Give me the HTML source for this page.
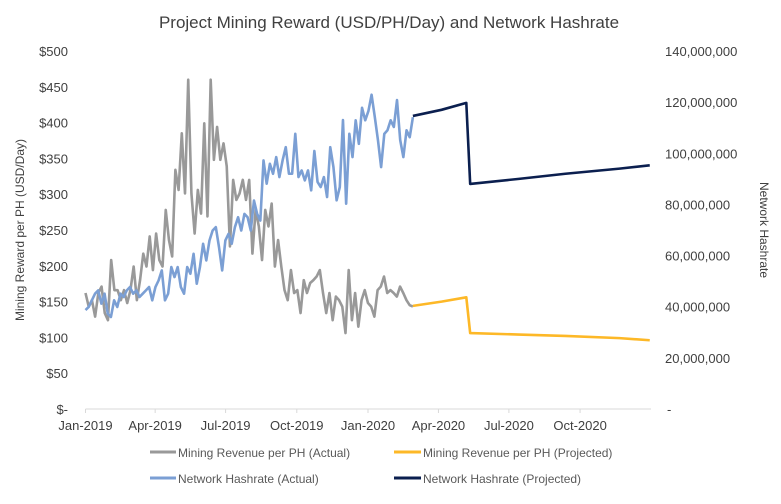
<!DOCTYPE html>
<html><head><meta charset="utf-8"><style>
body{margin:0;background:#fff;font-family:"Liberation Sans",Arial,sans-serif;}
svg text{font-family:"Liberation Sans",Arial,sans-serif;}
</style></head><body>
<svg width="781" height="499" viewBox="0 0 781 499" xmlns="http://www.w3.org/2000/svg">
<rect width="781" height="499" fill="#fff"/>
<text x="389" y="28" text-anchor="middle" font-size="17" fill="#404040">Project Mining Reward (USD/PH/Day) and Network Hashrate</text>
<g id="axes"></g>
<g id="series"></g>
<text transform="translate(24,230) rotate(-90)" text-anchor="middle" font-size="12" fill="#404040">Mining Reward per PH (USD/Day)</text>
<text transform="translate(760,230) rotate(90)" text-anchor="middle" font-size="12" fill="#404040">Network Hashrate</text>
<g font-size="12" fill="#595959">
<g><line x1="150" y1="452" x2="176" y2="452" stroke="#999999" stroke-width="3"/><text x="178" y="457">Mining Revenue per PH (Actual)</text></g>
<g><line x1="394" y1="452" x2="421" y2="452" stroke="#FDB827" stroke-width="3"/><text x="423" y="457">Mining Revenue per PH (Projected)</text></g>
<g><line x1="150" y1="478" x2="176" y2="478" stroke="#7B9FD4" stroke-width="3"/><text x="178" y="483">Network Hashrate (Actual)</text></g>
<g><line x1="394" y1="478" x2="421" y2="478" stroke="#0B1F4F" stroke-width="3"/><text x="423" y="483">Network Hashrate (Projected)</text></g>
</g>
</svg>
<script>
const revenueActual=[162,143,152,129,162,171,134,124,208,166,166,152,166,148,166,199,152,180,217,199,241,194,245,208,199,278,236,213,334,306,385,301,460,301,245,306,273,399,269,460,348,394,348,371,339,227,320,292,301,320,292,320,217,278,255,208,278,255,287,199,236,199,166,152,194,162,166,134,180,162,176,180,185,194,162,134,162,124,157,152,143,106,194,124,162,115,152,166,148,143,129,166,171,185,162,166,162,157,171,162,152,145,143];
const hashrateActual=[38.7,39.9,42.5,45.1,46.4,41.2,45.1,37.3,36.0,42.5,39.9,45.1,43.8,46.4,47.7,45.1,46.4,43.8,45.1,46.4,47.7,42.5,47.7,50.3,54.2,42.5,45.1,55.5,51.6,55.5,47.7,45.1,55.5,52.9,60.7,49.0,55.5,64.6,58.1,65.9,69.8,71.1,63.3,54.2,65.9,68.5,64.6,71.1,75.0,69.8,76.3,75.0,69.8,81.5,76.3,73.7,97.2,88.1,95.9,92.0,98.5,90.7,97.2,102.4,92.0,92.0,107.6,90.7,93.3,89.4,93.3,85.5,100.9,88.8,86.8,90.7,82.9,102.4,94.6,81.6,86.8,113.0,80.3,107.6,98.5,112.9,103.7,117.8,112.9,116.5,122.9,114.3,105.2,94.6,107.6,109.0,112.9,110.3,120.8,105.2,98.5,109.0,106.3,114.1];
const revProjDays=[423,460,492,497,560,620,690,729];
const revProjValues=[144,150,156,106,104,102,99,96];
const hashProjDays=[423,460,492,497,560,620,690,729];
const hashProjValues=[114.6,117,119.7,88,90,92,94,95.3];
const leftTicks=["$-","$50","$100","$150","$200","$250","$300","$350","$400","$450","$500"];
const rightTicks=["-","20,000,000","40,000,000","60,000,000","80,000,000","100,000,000","120,000,000","140,000,000"];
const xTickLabels=["Jan-2019","Apr-2019","Jul-2019","Oct-2019","Jan-2020","Apr-2020","Jul-2020","Oct-2020"];
const xTickDays=[0,90,181,273,365,456,547,639];
const actualEndDay=423;

const NS="http://www.w3.org/2000/svg";
const X0=85.5,PX=0.774,YB=409,YT=51;
const xs=d=>X0+d*PX;
const yL=v=>YB-(v/500)*(YB-YT);
const yR=v=>YB-(v/140)*(YB-YT);
function mk(tag,attrs,parent){const e=document.createElementNS(NS,tag);for(const k in attrs)e.setAttribute(k,attrs[k]);parent.appendChild(e);return e;}
const axes=document.getElementById('axes'),ser=document.getElementById('series');
let ax=mk('line',{x1:X0,y1:YB,x2:651,y2:YB,stroke:'#d9d9d9','stroke-width':1},axes);


leftTicks.forEach((t,i)=>{const e=mk('text',{x:68,y:yL(i*50)+5,'text-anchor':'end','font-size':13,fill:'#404040'},axes);e.textContent=t;

});
rightTicks.forEach((t,i)=>{const e=mk('text',{x:i==0?667:665,y:yR(i*20)+5,'font-size':13,fill:'#404040'},axes);e.textContent=t;

});
xTickLabels.forEach((t,i)=>{const x=xs(xTickDays[i]);mk('line',{x1:x,y1:YB,x2:x,y2:YB+4,stroke:'#d9d9d9'},axes);
const e=mk('text',{x:x,y:430,'text-anchor':'middle','font-size':13,fill:'#404040'},axes);e.textContent=t;

});
function poly(days,vals,yf,color,name){const pts=vals.map((v,i)=>xs(days(i))+','+yf(v)).join(' ');
const p=mk('polyline',{points:pts,fill:'none',stroke:color,'stroke-width':2.6,'stroke-linejoin':'round'},ser);

}
poly(i=>i*actualEndDay/(revenueActual.length-1),revenueActual,yL,'#999999','revenue-actual-line');
poly(i=>i*actualEndDay/(hashrateActual.length-1),hashrateActual,yR,'#7B9FD4','hashrate-actual-line');
poly(i=>revProjDays[i],revProjValues,yL,'#FDB827','revenue-projected-line');
poly(i=>hashProjDays[i],hashProjValues,yR,'#0B1F4F','hashrate-projected-line');
</script>
</body></html>
